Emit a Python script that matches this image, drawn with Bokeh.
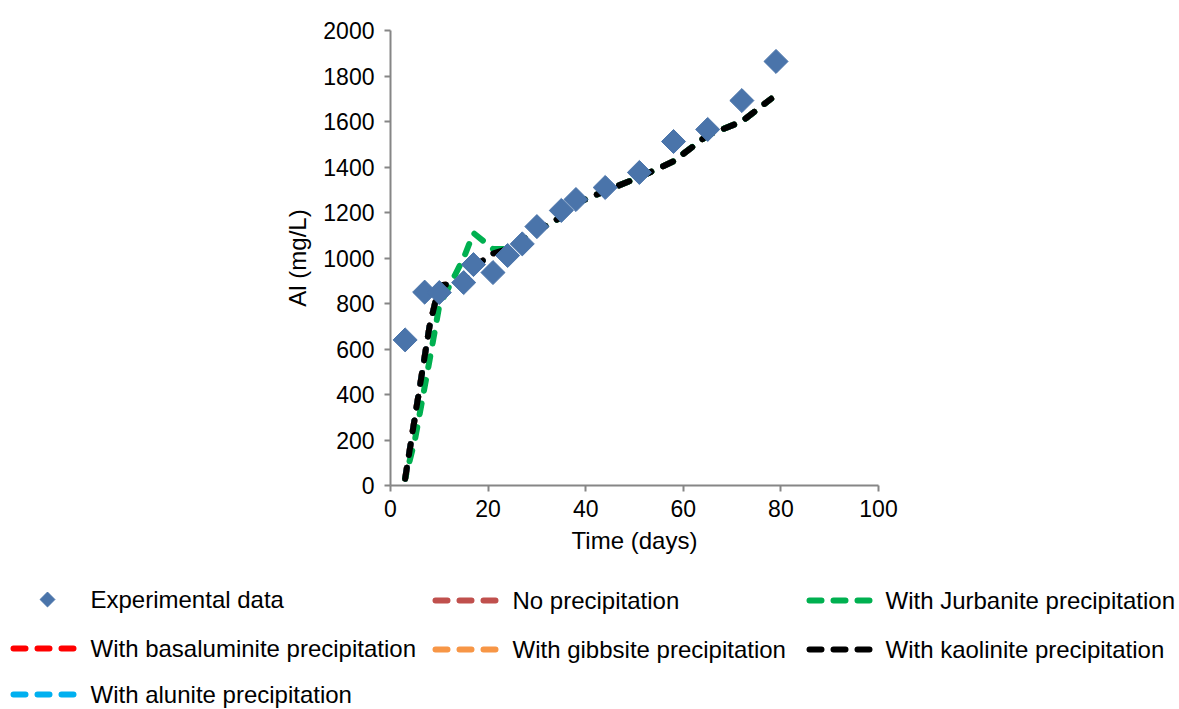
import math
from bokeh.plotting import figure
from bokeh.models import Range1d, FixedTicker
from bokeh.core.properties import value
from bokeh.embed import file_html
from bokeh.resources import INLINE

# ---------------- data ----------------
days_exp = [3, 7, 10, 15, 17, 21, 24, 27, 30, 35, 38, 44, 51, 58, 65, 72, 79]
al_exp = [640, 850, 848, 892, 971, 936, 1011, 1062, 1138, 1209, 1257, 1310, 1376, 1512, 1565, 1692, 1864]

days_model = [3, 5, 8, 10, 15, 17, 21, 24, 27, 30, 35, 38, 44, 51, 58, 65, 72, 78]
al_kaolinite = [30, 300, 700, 880, 890, 960, 1020, 1040, 1080, 1120, 1180, 1240, 1295, 1355, 1425, 1540, 1600, 1700]
al_no_precip = [30, 300, 700, 880, 890, 960, 1020, 1040, 1080, 1120, 1180, 1240, 1295, 1355, 1425, 1540, 1600, 1700]
al_basaluminite = [30, 300, 700, 880, 890, 960, 1020, 1040, 1080, 1120, 1180, 1240, 1295, 1355, 1425, 1540, 1600, 1700]
al_gibbsite = [30, 300, 700, 880, 890, 960, 1020, 1040, 1080, 1120, 1180, 1240, 1295, 1355, 1425, 1540, 1600, 1700]
al_alunite = [30, 300, 700, 880, 890, 960, 1020, 1040, 1080, 1120, 1180, 1240, 1295, 1355, 1425, 1540, 1600, 1700]
al_jurbanite = [30, 200, 550, 790, 1000, 1110, 1040, 1040, 1080, 1120, 1180, 1240, 1295, 1355, 1425, 1540, 1600, 1700]

x_ticks = [0, 20, 40, 60, 80, 100]
y_ticks = [0, 200, 400, 600, 800, 1000, 1200, 1400, 1600, 1800, 2000]

series = [
    ("No precipitation", al_no_precip, "#C0504D"),
    ("With basaluminite precipitation", al_basaluminite, "#FF0000"),
    ("With gibbsite precipitation", al_gibbsite, "#F79646"),
    ("With alunite precipitation", al_alunite, "#00B0F0"),
    ("With Jurbanite precipitation", al_jurbanite, "#00B050"),
    ("With kaolinite precipitation", al_kaolinite, "#000000"),
]

FONT = "Liberation Sans"
FS_TICK = "23px"
FS = "24px"
AXIS_COL = "#868686"
DIAMOND_COL = "#4A74AA"
DASH_ON, DASH_OFF = 11, 13
DASH = f"{DASH_ON} {DASH_OFF}"

W, H = 1179, 570
BL, BR, BT, BB = 390, 301, 30, 85
FRAME_W, FRAME_H = W - BL - BR, H - BT - BB


def screen_len(xs, ys):
    """polyline length in screen pixels (used only to keep dash patterns in phase)"""
    kx, ky = FRAME_W / 100.0, FRAME_H / 2000.0
    return sum(math.hypot((xs[i + 1] - xs[i]) * kx, (ys[i + 1] - ys[i]) * ky) for i in range(len(xs) - 1))


ref_len = screen_len(days_model, al_kaolinite)

# ---------------- main plot ----------------
p = figure(width=W, height=H, output_backend="svg", toolbar_location=None,
           x_range=Range1d(0, 100), y_range=Range1d(0, 2000),
           min_border_left=BL, min_border_right=BR, min_border_top=BT, min_border_bottom=BB)
p.outline_line_color = None
p.grid.visible = False
p.background_fill_color = "white"
p.border_fill_color = "white"

for name, vals, col in series:
    d = screen_len(days_model, vals) - ref_len
    off = int(round((-d) % (DASH_ON + DASH_OFF)))
    p.line(days_model, vals, line_color=col, line_width=6, line_dash=DASH,
           line_dash_offset=off, line_cap="round")

p.scatter(days_exp, al_exp, marker="square", angle=math.pi / 4, size=17,
          fill_color=DIAMOND_COL, line_color=DIAMOND_COL)

for ax in (p.xaxis[0], p.yaxis[0]):
    ax.axis_line_color = AXIS_COL
    ax.axis_line_width = 2
    ax.major_tick_line_color = AXIS_COL
    ax.major_tick_line_width = 2
    ax.major_tick_in = 0
    ax.major_tick_out = 6
    ax.minor_tick_line_color = None
    ax.major_label_text_font = FONT
    ax.major_label_text_font_size = FS_TICK
    ax.major_label_text_color = "#000000"
    ax.axis_label_text_font = FONT
    ax.axis_label_text_font_size = FS
    ax.axis_label_text_font_style = "normal"
    ax.axis_label_text_color = "#000000"

p.xaxis.ticker = FixedTicker(ticks=x_ticks)
p.yaxis.ticker = FixedTicker(ticks=y_ticks)
p.xaxis.axis_label = "Time (days)"
p.yaxis.axis_label = "Al (mg/L)"
p.xaxis.major_label_standoff = 8
p.yaxis.major_label_standoff = 10
p.xaxis.axis_label_standoff = 7
p.yaxis.axis_label_standoff = 9

# ---------------- legend (drawn as its own panel) ----------------
lg = figure(width=W, height=139, output_backend="svg", toolbar_location=None,
            x_range=Range1d(0, W), y_range=Range1d(709, 570),
            min_border=0, min_border_left=0, min_border_right=0, min_border_top=0, min_border_bottom=0)
lg.axis.visible = False
lg.grid.visible = False
lg.outline_line_color = None
lg.background_fill_color = "white"
lg.border_fill_color = "white"

# legend slots: (label, colour or None for marker, line x0, line x1, text x, row y)
slots = [
    ("Experimental data", None, 10, 76, 90, 599),
    ("No precipitation", "#C0504D", 432, 498, 512, 600),
    ("With Jurbanite precipitation", "#00B050", 806, 872, 885, 600),
    ("With basaluminite precipitation", "#FF0000", 10, 76, 90, 648),
    ("With gibbsite precipitation", "#F79646", 432, 498, 512, 649),
    ("With kaolinite precipitation", "#000000", 806, 872, 885, 649),
    ("With alunite precipitation", "#00B0F0", 10, 76, 90, 694),
]
for label, col, x0, x1, tx, yy in slots:
    if col is None:
        lg.scatter([47], [yy], marker="square", angle=math.pi / 4, size=10.5,
                   fill_color=DIAMOND_COL, line_color=DIAMOND_COL)
    else:
        lg.line([x0 + 3, x1 - 3], [yy, yy], line_color=col, line_width=6,
                line_dash="12 12", line_cap="round")
    lg.text([tx], [yy], text=[label], text_font=value(FONT), text_font_size=FS,
            text_baseline="middle", text_align="left", text_color="#000000")

open("out.html", "w").write(file_html([p, lg], INLINE))
